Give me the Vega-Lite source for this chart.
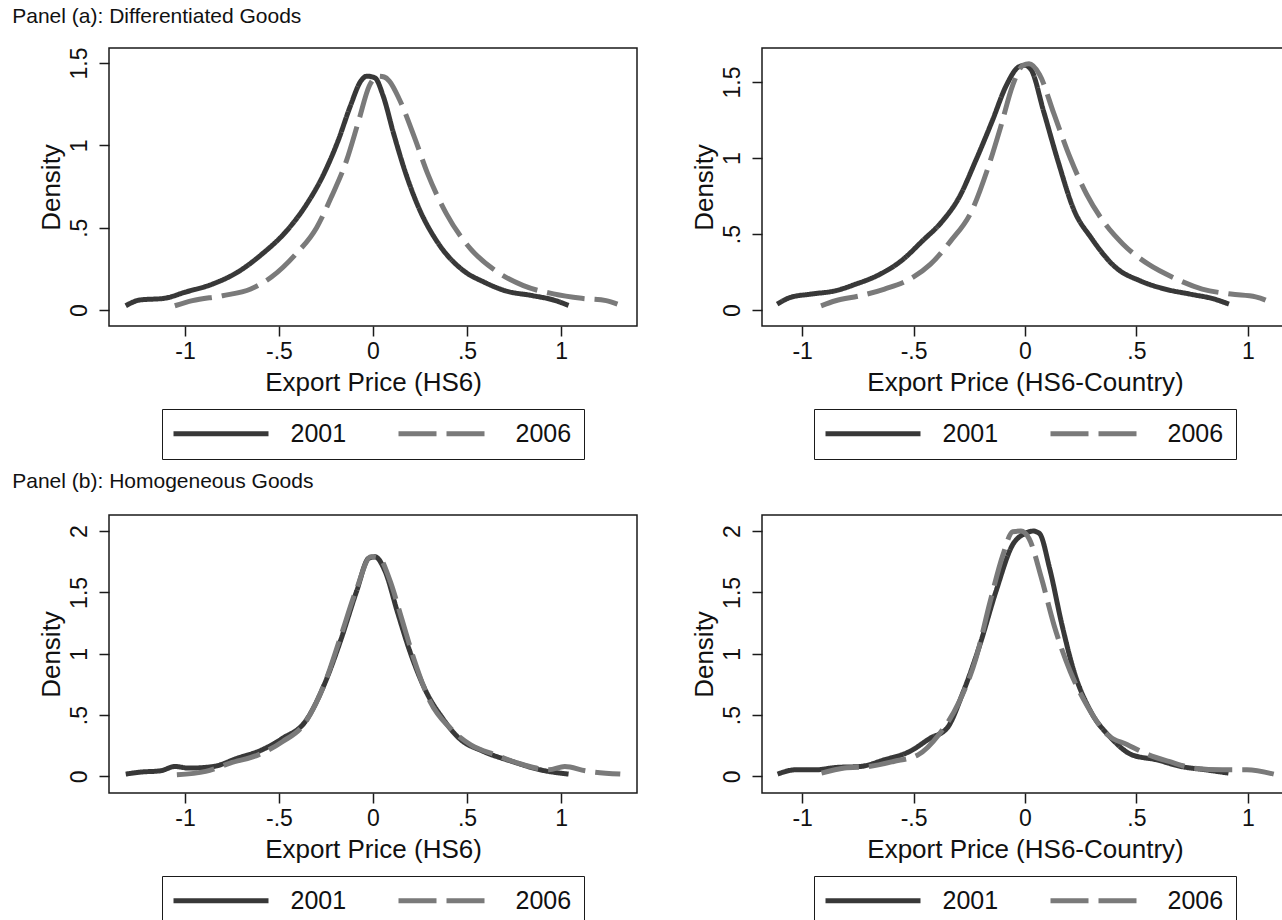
{
  "$schema": "https://vega.github.io/schema/vega-lite/v6.json",
  "background": "white",
  "padding": {"left": 12, "top": 6, "right": 0, "bottom": 0},
  "spacing": 10,
  "config": {
    "font": "Liberation Sans",
    "view": {"stroke": "#1a1a1a", "strokeWidth": 1.5},
    "axis": {"grid": false, "domain": false, "ticks": true, "tickSize": 10, "tickWidth": 1.5, "tickColor": "#1a1a1a", "labelFont": "Liberation Sans", "labelFontSize": 23, "labelColor": "#111111", "titleFont": "Liberation Sans", "titleFontSize": 26, "titleFontWeight": "normal", "titleColor": "#111111", "labelFlush": false, "labelOverlap": false},
    "axisY": {"labelAngle": -90, "labelAlign": "center", "labelBaseline": "bottom", "labelPadding": 8, "titlePadding": 4},
    "axisX": {"labelPadding": 4, "titlePadding": 6},
    "legend": {"orient": "bottom", "direction": "horizontal", "symbolStrokeWidth": 5, "labelFont": "Liberation Sans", "labelFontSize": 25, "labelColor": "#111111", "columnPadding": 41, "padding": 12, "strokeColor": "#1a1a1a", "offset": 14, "labelLimit": 0, "layout": {"bottom": {"anchor": "middle"}}},
    "title": {"font": "Liberation Sans", "fontSize": 21, "fontWeight": "normal", "anchor": "start", "color": "#111111"}
  },
  "data": {"values": [
    {"panel":"a1","year":"2001","x":-1.315,"y":0.026},{"panel":"a1","year":"2001","x":-1.24,"y":0.061},{"panel":"a1","year":"2001","x":-1.11,"y":0.071},{"panel":"a1","year":"2001","x":-1.0,"y":0.108},{"panel":"a1","year":"2001","x":-0.85,"y":0.159},{"panel":"a1","year":"2001","x":-0.72,"y":0.23},{"panel":"a1","year":"2001","x":-0.59,"y":0.34},{"panel":"a1","year":"2001","x":-0.46,"y":0.48},{"panel":"a1","year":"2001","x":-0.36,"y":0.63},{"panel":"a1","year":"2001","x":-0.26,"y":0.83},{"panel":"a1","year":"2001","x":-0.185,"y":1.03},{"panel":"a1","year":"2001","x":-0.12,"y":1.24},{"panel":"a1","year":"2001","x":-0.065,"y":1.39},{"panel":"a1","year":"2001","x":-0.033,"y":1.42},{"panel":"a1","year":"2001","x":0.01,"y":1.41},{"panel":"a1","year":"2001","x":0.054,"y":1.30},{"panel":"a1","year":"2001","x":0.11,"y":1.07},{"panel":"a1","year":"2001","x":0.174,"y":0.83},{"panel":"a1","year":"2001","x":0.24,"y":0.63},{"panel":"a1","year":"2001","x":0.35,"y":0.40},{"panel":"a1","year":"2001","x":0.48,"y":0.24},{"panel":"a1","year":"2001","x":0.59,"y":0.17},{"panel":"a1","year":"2001","x":0.70,"y":0.118},{"panel":"a1","year":"2001","x":0.85,"y":0.087},{"panel":"a1","year":"2001","x":0.96,"y":0.061},{"panel":"a1","year":"2001","x":1.04,"y":0.028},
    {"panel":"a1","year":"2006","x":-1.054,"y":0.026},{"panel":"a1","year":"2006","x":-0.96,"y":0.057},{"panel":"a1","year":"2006","x":-0.80,"y":0.087},{"panel":"a1","year":"2006","x":-0.65,"y":0.128},{"panel":"a1","year":"2006","x":-0.54,"y":0.20},{"panel":"a1","year":"2006","x":-0.41,"y":0.34},{"panel":"a1","year":"2006","x":-0.30,"y":0.50},{"panel":"a1","year":"2006","x":-0.22,"y":0.69},{"panel":"a1","year":"2006","x":-0.14,"y":0.91},{"panel":"a1","year":"2006","x":-0.076,"y":1.15},{"panel":"a1","year":"2006","x":-0.02,"y":1.36},{"panel":"a1","year":"2006","x":0.03,"y":1.42},{"panel":"a1","year":"2006","x":0.06,"y":1.415},{"panel":"a1","year":"2006","x":0.087,"y":1.39},{"panel":"a1","year":"2006","x":0.14,"y":1.28},{"panel":"a1","year":"2006","x":0.22,"y":1.05},{"panel":"a1","year":"2006","x":0.29,"y":0.83},{"panel":"a1","year":"2006","x":0.39,"y":0.585},{"panel":"a1","year":"2006","x":0.52,"y":0.37},{"panel":"a1","year":"2006","x":0.65,"y":0.24},{"panel":"a1","year":"2006","x":0.80,"y":0.148},{"panel":"a1","year":"2006","x":0.96,"y":0.098},{"panel":"a1","year":"2006","x":1.11,"y":0.071},{"panel":"a1","year":"2006","x":1.24,"y":0.057},{"panel":"a1","year":"2006","x":1.30,"y":0.036},
    {"panel":"a2","year":"2001","x":-1.112,"y":0.039},{"panel":"a2","year":"2001","x":-1.053,"y":0.083},{"panel":"a2","year":"2001","x":-0.96,"y":0.105},{"panel":"a2","year":"2001","x":-0.85,"y":0.127},{"panel":"a2","year":"2001","x":-0.76,"y":0.17},{"panel":"a2","year":"2001","x":-0.665,"y":0.225},{"panel":"a2","year":"2001","x":-0.555,"y":0.324},{"panel":"a2","year":"2001","x":-0.46,"y":0.455},{"panel":"a2","year":"2001","x":-0.37,"y":0.586},{"panel":"a2","year":"2001","x":-0.296,"y":0.74},{"panel":"a2","year":"2001","x":-0.222,"y":0.98},{"panel":"a2","year":"2001","x":-0.148,"y":1.24},{"panel":"a2","year":"2001","x":-0.083,"y":1.48},{"panel":"a2","year":"2001","x":-0.028,"y":1.60},{"panel":"a2","year":"2001","x":0.0,"y":1.61},{"panel":"a2","year":"2001","x":0.028,"y":1.58},{"panel":"a2","year":"2001","x":0.083,"y":1.31},{"panel":"a2","year":"2001","x":0.148,"y":0.98},{"panel":"a2","year":"2001","x":0.222,"y":0.65},{"panel":"a2","year":"2001","x":0.296,"y":0.477},{"panel":"a2","year":"2001","x":0.407,"y":0.28},{"panel":"a2","year":"2001","x":0.517,"y":0.192},{"panel":"a2","year":"2001","x":0.628,"y":0.138},{"panel":"a2","year":"2001","x":0.74,"y":0.105},{"panel":"a2","year":"2001","x":0.85,"y":0.072},{"panel":"a2","year":"2001","x":0.915,"y":0.039},
    {"panel":"a2","year":"2006","x":-0.915,"y":0.028},{"panel":"a2","year":"2006","x":-0.85,"y":0.061},{"panel":"a2","year":"2006","x":-0.74,"y":0.094},{"panel":"a2","year":"2006","x":-0.63,"y":0.138},{"panel":"a2","year":"2006","x":-0.517,"y":0.203},{"panel":"a2","year":"2006","x":-0.425,"y":0.30},{"panel":"a2","year":"2006","x":-0.333,"y":0.455},{"panel":"a2","year":"2006","x":-0.24,"y":0.65},{"panel":"a2","year":"2006","x":-0.166,"y":0.936},{"panel":"a2","year":"2006","x":-0.11,"y":1.20},{"panel":"a2","year":"2006","x":-0.055,"y":1.48},{"panel":"a2","year":"2006","x":-0.009,"y":1.61},{"panel":"a2","year":"2006","x":0.018,"y":1.62},{"panel":"a2","year":"2006","x":0.065,"y":1.55},{"panel":"a2","year":"2006","x":0.13,"y":1.29},{"panel":"a2","year":"2006","x":0.203,"y":1.0},{"panel":"a2","year":"2006","x":0.277,"y":0.76},{"panel":"a2","year":"2006","x":0.35,"y":0.586},{"panel":"a2","year":"2006","x":0.44,"y":0.433},{"panel":"a2","year":"2006","x":0.555,"y":0.30},{"panel":"a2","year":"2006","x":0.665,"y":0.214},{"panel":"a2","year":"2006","x":0.795,"y":0.138},{"panel":"a2","year":"2006","x":0.924,"y":0.105},{"panel":"a2","year":"2006","x":1.035,"y":0.087},{"panel":"a2","year":"2006","x":1.118,"y":0.039},
    {"panel":"b1","year":"2001","x":-1.315,"y":0.019},{"panel":"b1","year":"2001","x":-1.24,"y":0.035},{"panel":"b1","year":"2001","x":-1.13,"y":0.046},{"panel":"b1","year":"2001","x":-1.054,"y":0.081},{"panel":"b1","year":"2001","x":-0.98,"y":0.068},{"panel":"b1","year":"2001","x":-0.85,"y":0.081},{"panel":"b1","year":"2001","x":-0.72,"y":0.149},{"panel":"b1","year":"2001","x":-0.59,"y":0.217},{"panel":"b1","year":"2001","x":-0.48,"y":0.312},{"panel":"b1","year":"2001","x":-0.36,"y":0.448},{"panel":"b1","year":"2001","x":-0.26,"y":0.746},{"panel":"b1","year":"2001","x":-0.174,"y":1.10},{"panel":"b1","year":"2001","x":-0.087,"y":1.51},{"panel":"b1","year":"2001","x":-0.022,"y":1.78},{"panel":"b1","year":"2001","x":0.011,"y":1.79},{"panel":"b1","year":"2001","x":0.065,"y":1.67},{"panel":"b1","year":"2001","x":0.13,"y":1.34},{"panel":"b1","year":"2001","x":0.196,"y":1.02},{"panel":"b1","year":"2001","x":0.283,"y":0.69},{"panel":"b1","year":"2001","x":0.37,"y":0.475},{"panel":"b1","year":"2001","x":0.457,"y":0.312},{"panel":"b1","year":"2001","x":0.587,"y":0.204},{"panel":"b1","year":"2001","x":0.74,"y":0.122},{"panel":"b1","year":"2001","x":0.89,"y":0.054},{"panel":"b1","year":"2001","x":1.04,"y":0.019},
    {"panel":"b1","year":"2006","x":-1.043,"y":0.014},{"panel":"b1","year":"2006","x":-0.89,"y":0.041},{"panel":"b1","year":"2006","x":-0.76,"y":0.109},{"panel":"b1","year":"2006","x":-0.61,"y":0.176},{"panel":"b1","year":"2006","x":-0.48,"y":0.285},{"panel":"b1","year":"2006","x":-0.37,"y":0.42},{"panel":"b1","year":"2006","x":-0.26,"y":0.746},{"panel":"b1","year":"2006","x":-0.174,"y":1.13},{"panel":"b1","year":"2006","x":-0.087,"y":1.53},{"panel":"b1","year":"2006","x":-0.011,"y":1.79},{"panel":"b1","year":"2006","x":0.033,"y":1.78},{"panel":"b1","year":"2006","x":0.087,"y":1.61},{"panel":"b1","year":"2006","x":0.152,"y":1.29},{"panel":"b1","year":"2006","x":0.217,"y":0.96},{"panel":"b1","year":"2006","x":0.304,"y":0.61},{"panel":"b1","year":"2006","x":0.413,"y":0.39},{"panel":"b1","year":"2006","x":0.52,"y":0.258},{"panel":"b1","year":"2006","x":0.65,"y":0.176},{"panel":"b1","year":"2006","x":0.80,"y":0.095},{"panel":"b1","year":"2006","x":0.935,"y":0.054},{"panel":"b1","year":"2006","x":1.02,"y":0.081},{"panel":"b1","year":"2006","x":1.13,"y":0.046},{"panel":"b1","year":"2006","x":1.315,"y":0.019},
    {"panel":"b2","year":"2001","x":-1.11,"y":0.019},{"panel":"b2","year":"2001","x":-1.03,"y":0.054},{"panel":"b2","year":"2001","x":-0.94,"y":0.054},{"panel":"b2","year":"2001","x":-0.85,"y":0.073},{"panel":"b2","year":"2001","x":-0.74,"y":0.081},{"panel":"b2","year":"2001","x":-0.63,"y":0.136},{"panel":"b2","year":"2001","x":-0.517,"y":0.204},{"panel":"b2","year":"2001","x":-0.425,"y":0.312},{"panel":"b2","year":"2001","x":-0.35,"y":0.393},{"panel":"b2","year":"2001","x":-0.277,"y":0.69},{"panel":"b2","year":"2001","x":-0.203,"y":1.07},{"panel":"b2","year":"2001","x":-0.13,"y":1.51},{"panel":"b2","year":"2001","x":-0.055,"y":1.89},{"panel":"b2","year":"2001","x":0.0,"y":1.98},{"panel":"b2","year":"2001","x":0.037,"y":2.0},{"panel":"b2","year":"2001","x":0.065,"y":1.98},{"panel":"b2","year":"2001","x":0.11,"y":1.70},{"panel":"b2","year":"2001","x":0.166,"y":1.235},{"panel":"b2","year":"2001","x":0.22,"y":0.855},{"panel":"b2","year":"2001","x":0.295,"y":0.53},{"panel":"b2","year":"2001","x":0.387,"y":0.312},{"panel":"b2","year":"2001","x":0.48,"y":0.176},{"panel":"b2","year":"2001","x":0.59,"y":0.136},{"panel":"b2","year":"2001","x":0.70,"y":0.081},{"panel":"b2","year":"2001","x":0.81,"y":0.054},{"panel":"b2","year":"2001","x":0.913,"y":0.027},
    {"panel":"b2","year":"2006","x":-0.913,"y":0.027},{"panel":"b2","year":"2006","x":-0.81,"y":0.068},{"panel":"b2","year":"2006","x":-0.70,"y":0.081},{"panel":"b2","year":"2006","x":-0.59,"y":0.122},{"panel":"b2","year":"2006","x":-0.48,"y":0.176},{"panel":"b2","year":"2006","x":-0.387,"y":0.34},{"panel":"b2","year":"2006","x":-0.295,"y":0.61},{"panel":"b2","year":"2006","x":-0.22,"y":0.963},{"panel":"b2","year":"2006","x":-0.157,"y":1.42},{"panel":"b2","year":"2006","x":-0.10,"y":1.80},{"panel":"b2","year":"2006","x":-0.055,"y":1.995},{"panel":"b2","year":"2006","x":-0.018,"y":2.0},{"panel":"b2","year":"2006","x":0.018,"y":1.94},{"panel":"b2","year":"2006","x":0.074,"y":1.615},{"panel":"b2","year":"2006","x":0.13,"y":1.235},{"panel":"b2","year":"2006","x":0.203,"y":0.855},{"panel":"b2","year":"2006","x":0.277,"y":0.583},{"panel":"b2","year":"2006","x":0.37,"y":0.34},{"panel":"b2","year":"2006","x":0.46,"y":0.258},{"panel":"b2","year":"2006","x":0.555,"y":0.176},{"panel":"b2","year":"2006","x":0.646,"y":0.122},{"panel":"b2","year":"2006","x":0.757,"y":0.068},{"panel":"b2","year":"2006","x":0.886,"y":0.054},{"panel":"b2","year":"2006","x":0.996,"y":0.054},{"panel":"b2","year":"2006","x":1.116,"y":0.019}
  ]},
  "resolve": {"scale": {"color": "independent", "strokeDash": "independent"}, "legend": {"color": "independent", "strokeDash": "independent"}},
  "vconcat": [
    {
      "title": {"text": "Panel (a): Differentiated Goods", "dx": -25, "offset": 19},
      "spacing": 52,
      "resolve": {"scale": {"color": "independent", "strokeDash": "independent"}, "legend": {"color": "independent", "strokeDash": "independent"}},
      "hconcat": [
        {
          "width": 528, "height": 278,
          "transform": [{"filter": "datum.panel == 'a1'"}],
          "mark": {"type": "line", "strokeWidth": 5, "interpolate": "monotone"},
          "encoding": {
            "x": {"field": "x", "type": "quantitative", "scale": {"domain": [-1.404, 1.404], "nice": false, "zero": false}, "axis": {"values": [-1, -0.5, 0, 0.5, 1], "title": "Export Price (HS6)", "labelExpr": "datum.value == 0.5 ? '.5' : datum.value == -0.5 ? '-.5' : toString(datum.value)"}},
            "y": {"field": "y", "type": "quantitative", "scale": {"domain": [-0.097, 1.591], "nice": false, "zero": false}, "axis": {"values": [0, 0.5, 1, 1.5], "title": "Density", "labelExpr": "datum.value == 0.5 ? '.5' : toString(datum.value)"}},
            "color": {"field": "year", "type": "nominal", "scale": {"domain": ["2001", "2006"], "range": ["#383838", "#7a7a7a"]}, "legend": {"title": null, "symbolType": "M-9.5,0L9.5,0", "symbolSize": 100, "symbolOffset": 34.5, "labelOffset": 57}},
            "strokeDash": {"field": "year", "type": "nominal", "scale": {"domain": ["2001", "2006"], "range": [[1, 0], [38, 10]]}, "legend": {"title": null, "symbolType": "M-9.5,0L9.5,0", "symbolSize": 100, "symbolOffset": 34.5, "labelOffset": 57}}
          }
        },
        {
          "width": 526, "height": 278,
          "transform": [{"filter": "datum.panel == 'a2'"}],
          "mark": {"type": "line", "strokeWidth": 5, "interpolate": "monotone"},
          "encoding": {
            "x": {"field": "x", "type": "quantitative", "scale": {"domain": [-1.18, 1.18], "nice": false, "zero": false}, "axis": {"values": [-1, -0.5, 0, 0.5, 1], "title": "Export Price (HS6-Country)", "labelExpr": "datum.value == 0.5 ? '.5' : datum.value == -0.5 ? '-.5' : toString(datum.value)"}},
            "y": {"field": "y", "type": "quantitative", "scale": {"domain": [-0.105, 1.724], "nice": false, "zero": false}, "axis": {"values": [0, 0.5, 1, 1.5], "title": "Density", "labelExpr": "datum.value == 0.5 ? '.5' : toString(datum.value)"}},
            "color": {"field": "year", "type": "nominal", "scale": {"domain": ["2001", "2006"], "range": ["#383838", "#7a7a7a"]}, "legend": {"title": null, "symbolType": "M-9.5,0L9.5,0", "symbolSize": 100, "symbolOffset": 34.5, "labelOffset": 57}},
            "strokeDash": {"field": "year", "type": "nominal", "scale": {"domain": ["2001", "2006"], "range": [[1, 0], [38, 10]]}, "legend": {"title": null, "symbolType": "M-9.5,0L9.5,0", "symbolSize": 100, "symbolOffset": 34.5, "labelOffset": 57}}
          }
        }
      ]
    },
    {
      "title": {"text": "Panel (b): Homogeneous Goods", "dx": -25, "offset": 22},
      "spacing": 52,
      "resolve": {"scale": {"color": "independent", "strokeDash": "independent"}, "legend": {"color": "independent", "strokeDash": "independent"}},
      "hconcat": [
        {
          "width": 528, "height": 278,
          "transform": [{"filter": "datum.panel == 'b1'"}],
          "mark": {"type": "line", "strokeWidth": 5, "interpolate": "monotone"},
          "encoding": {
            "x": {"field": "x", "type": "quantitative", "scale": {"domain": [-1.404, 1.404], "nice": false, "zero": false}, "axis": {"values": [-1, -0.5, 0, 0.5, 1], "title": "Export Price (HS6)", "labelExpr": "datum.value == 0.5 ? '.5' : datum.value == -0.5 ? '-.5' : toString(datum.value)"}},
            "y": {"field": "y", "type": "quantitative", "scale": {"domain": [-0.135, 2.131], "nice": false, "zero": false}, "axis": {"values": [0, 0.5, 1, 1.5, 2], "title": "Density", "labelExpr": "datum.value == 0.5 ? '.5' : toString(datum.value)"}},
            "color": {"field": "year", "type": "nominal", "scale": {"domain": ["2001", "2006"], "range": ["#383838", "#7a7a7a"]}, "legend": {"title": null, "symbolType": "M-9.5,0L9.5,0", "symbolSize": 100, "symbolOffset": 34.5, "labelOffset": 57}},
            "strokeDash": {"field": "year", "type": "nominal", "scale": {"domain": ["2001", "2006"], "range": [[1, 0], [38, 10]]}, "legend": {"title": null, "symbolType": "M-9.5,0L9.5,0", "symbolSize": 100, "symbolOffset": 34.5, "labelOffset": 57}}
          }
        },
        {
          "width": 526, "height": 278,
          "transform": [{"filter": "datum.panel == 'b2'"}],
          "mark": {"type": "line", "strokeWidth": 5, "interpolate": "monotone"},
          "encoding": {
            "x": {"field": "x", "type": "quantitative", "scale": {"domain": [-1.18, 1.18], "nice": false, "zero": false}, "axis": {"values": [-1, -0.5, 0, 0.5, 1], "title": "Export Price (HS6-Country)", "labelExpr": "datum.value == 0.5 ? '.5' : datum.value == -0.5 ? '-.5' : toString(datum.value)"}},
            "y": {"field": "y", "type": "quantitative", "scale": {"domain": [-0.135, 2.131], "nice": false, "zero": false}, "axis": {"values": [0, 0.5, 1, 1.5, 2], "title": "Density", "labelExpr": "datum.value == 0.5 ? '.5' : toString(datum.value)"}},
            "color": {"field": "year", "type": "nominal", "scale": {"domain": ["2001", "2006"], "range": ["#383838", "#7a7a7a"]}, "legend": {"title": null, "symbolType": "M-9.5,0L9.5,0", "symbolSize": 100, "symbolOffset": 34.5, "labelOffset": 57}},
            "strokeDash": {"field": "year", "type": "nominal", "scale": {"domain": ["2001", "2006"], "range": [[1, 0], [38, 10]]}, "legend": {"title": null, "symbolType": "M-9.5,0L9.5,0", "symbolSize": 100, "symbolOffset": 34.5, "labelOffset": 57}}
          }
        }
      ]
    }
  ]
}
